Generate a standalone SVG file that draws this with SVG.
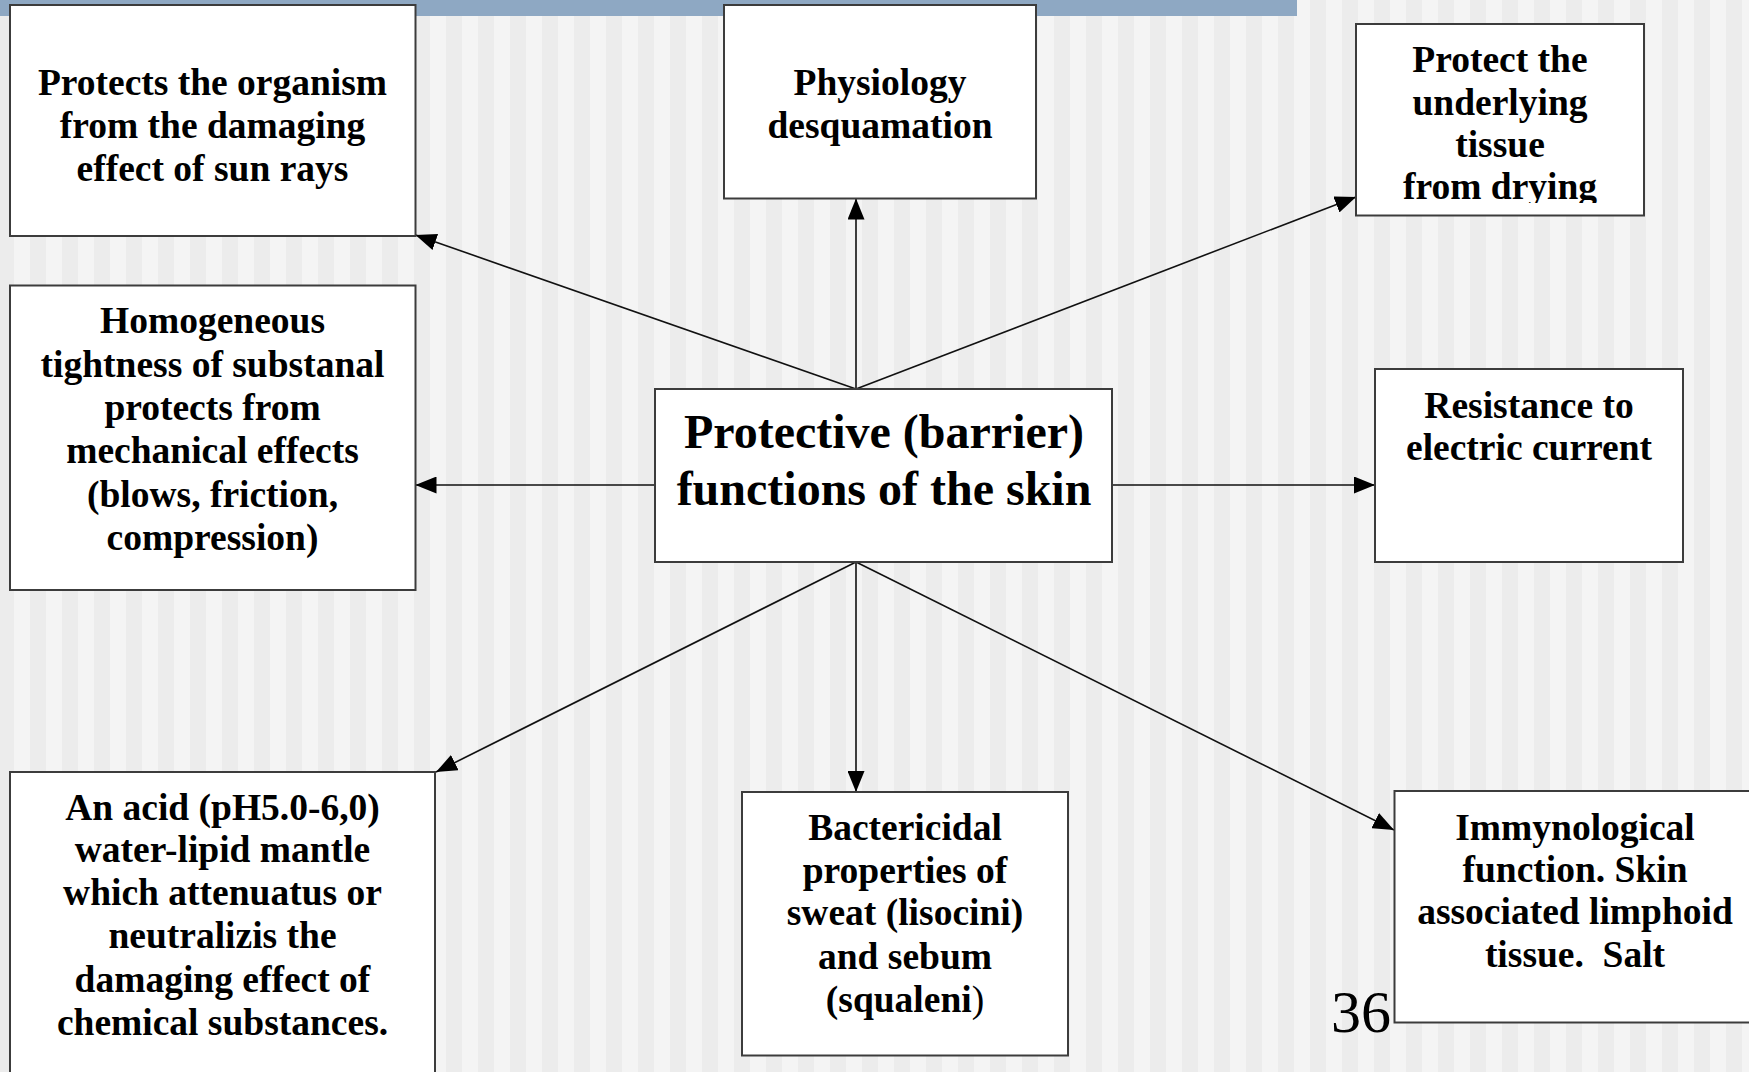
<svg xmlns="http://www.w3.org/2000/svg" width="1749" height="1072" viewBox="0 0 1749 1072">
  <defs>
    <!-- vertical pinstripe slide background -->
    <pattern id="stripes" x="0" y="0" width="32" height="32" patternUnits="userSpaceOnUse">
      <rect x="0" y="0" width="32" height="32" fill="#ECECEC"/>
      <rect x="14" y="0" width="16" height="32" fill="#F4F4F4"/>
    </pattern>
    <marker id="ah" markerWidth="21" markerHeight="17" refX="21" refY="8.5" orient="auto" markerUnits="userSpaceOnUse">
      <path d="M0,0 L21,8.5 L0,17 z" fill="#000"/>
    </marker>
    <clipPath id="clipDry">
      <rect x="1356" y="23" width="288" height="180"/>
    </clipPath>
  </defs>
  <style>
    .box { fill: #FFFFFF; stroke: #3C3C3C; stroke-width: 2; }
    .lbl { font-family: "Liberation Serif", "Times New Roman", serif; font-weight: bold; font-size: 37.5px; fill: #000; text-anchor: middle; }
    .title { font-size: 48px; }
    .conn { stroke: #111; stroke-width: 1.6; fill: none; marker-end: url(#ah); }
    .num { font-family: "Liberation Serif", "Times New Roman", serif; font-size: 60px; fill: #000; text-anchor: end; }
  </style>

  <!-- background -->
  <rect x="0" y="0" width="1749" height="1072" fill="url(#stripes)"/>
  <rect x="0" y="0" width="1297" height="16" fill="#8EA8C3"/>

  <!-- connectors -->
  <g id="connectors">
    <line class="conn" x1="856" y1="389" x2="415.5" y2="235"/>
    <line class="conn" x1="856" y1="389" x2="856" y2="198.5"/>
    <line class="conn" x1="856" y1="389" x2="1356" y2="197"/>
    <line class="conn" x1="655" y1="485" x2="415.5" y2="485"/>
    <line class="conn" x1="1112" y1="485" x2="1375" y2="485"/>
    <line class="conn" x1="856" y1="562" x2="436" y2="772"/>
    <line class="conn" x1="856" y1="562" x2="856" y2="792"/>
    <line class="conn" x1="856" y1="562" x2="1394" y2="830"/>
  </g>

  <!-- central node (tspans kept adjacent so no stray spaces shift the centring) -->
  <g id="node-center">
    <rect class="box" x="655" y="389" width="457" height="173"/>
    <text class="lbl title"><tspan x="884" y="448">Protective (barrier)</tspan><tspan x="884" y="505">functions of the skin</tspan></text>
  </g>

  <g id="node-sun">
    <rect class="box" x="10" y="5" width="405.5" height="231"/>
    <text class="lbl"><tspan x="212.5" y="95">Protects the organism</tspan><tspan x="212.5" y="138">from the damaging</tspan><tspan x="212.5" y="181">effect of sun rays</tspan></text>
  </g>

  <g id="node-desquamation">
    <rect class="box" x="724" y="5" width="312" height="193.5"/>
    <text class="lbl"><tspan x="880" y="95">Physiology</tspan><tspan x="880" y="138">desquamation</tspan></text>
  </g>

  <g id="node-drying">
    <rect class="box" x="1356" y="24" width="288" height="191.5"/>
    <text class="lbl" clip-path="url(#clipDry)"><tspan x="1500" y="72">Protect the</tspan><tspan x="1500" y="114.5">underlying</tspan><tspan x="1500" y="157">tissue</tspan><tspan x="1500" y="199">from drying</tspan></text>
  </g>

  <g id="node-mechanical">
    <rect class="box" x="10" y="285.5" width="405.5" height="304.5"/>
    <text class="lbl"><tspan x="212.5" y="333">Homogeneous</tspan><tspan x="212.5" y="376.5">tightness of substanal</tspan><tspan x="212.5" y="420">protects from</tspan><tspan x="212.5" y="463">mechanical effects</tspan><tspan x="212.5" y="506.5">(blows, friction,</tspan><tspan x="212.5" y="550">compression)</tspan></text>
  </g>

  <g id="node-electric">
    <rect class="box" x="1375" y="369" width="308" height="193"/>
    <text class="lbl"><tspan x="1529" y="418">Resistance to</tspan><tspan x="1529" y="460">electric current</tspan></text>
  </g>

  <g id="node-acid">
    <rect class="box" x="10" y="772" width="425" height="320"/>
    <text class="lbl"><tspan x="222.5" y="820">An acid (pH5.0-6,0)</tspan><tspan x="222.5" y="862">water-lipid mantle</tspan><tspan x="222.5" y="905">which attenuatus or</tspan><tspan x="222.5" y="948">neutralizis the</tspan><tspan x="222.5" y="992">damaging effect of</tspan><tspan x="222.5" y="1035">chemical substances.</tspan></text>
  </g>

  <g id="node-bactericidal">
    <rect class="box" x="742" y="792" width="326" height="263.5"/>
    <text class="lbl"><tspan x="905" y="840">Bactericidal</tspan><tspan x="905" y="883">properties of</tspan><tspan x="905" y="925">sweat (lisocini)</tspan><tspan x="905" y="969">and sebum</tspan><tspan x="905" y="1012">(squaleni<tspan font-weight="normal">)</tspan></tspan></text>
  </g>

  <g id="node-immunological">
    <rect class="box" x="1394.5" y="791" width="370" height="231.5"/>
    <text class="lbl"><tspan x="1575" y="840">Immynological</tspan><tspan x="1575" y="882">function. Skin</tspan><tspan x="1575" y="924">associated limphoid</tspan><tspan x="1575" y="967">tissue.&#160; Salt</tspan></text>
  </g>

  <!-- slide number -->
  <text class="num" x="1391" y="1032">36</text>
</svg>
